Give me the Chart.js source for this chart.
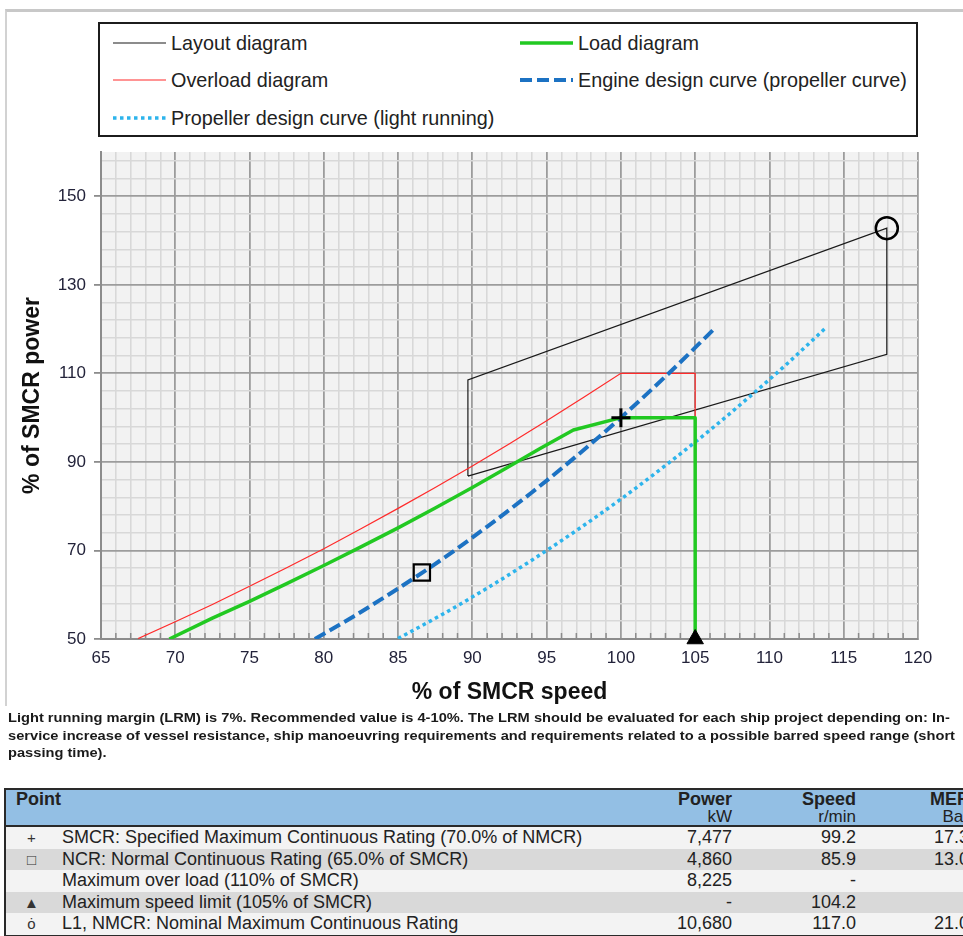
<!DOCTYPE html>
<html>
<head>
<meta charset="utf-8">
<title>Engine layout and load diagram</title>
<script src="https://cdn.jsdelivr.net/npm/chart.js@4.4.1/dist/chart.umd.min.js"></script>
<style>
  html, body { margin: 0; padding: 0; background: #fff; width: 963px; height: 936px; overflow: hidden;
    font-family: "Liberation Sans", Arial, sans-serif; color: #222; }
  #frame { position: absolute; left: 5px; top: 9px; width: 965px; height: 697px; box-sizing: border-box;
    border-top: 3px solid #c8c8c8; border-left: 2px solid #d2d2d2; }
  #chartWrap { position: absolute; left: 0; top: 0; width: 963px; height: 712px; }
  #legend { position: absolute; left: 98px; top: 22px; width: 820px; height: 115px; box-sizing: border-box;
    border: 2px solid #1c1c1c; background: #fff; }
  .item { position: absolute; height: 24px; display: flex; align-items: center; font-size: 19.8px; white-space: nowrap; color: #222; }
  .item svg { margin-right: 5px; flex: none; }
  #note { position: absolute; left: 8px; top: 709px; font-weight: bold; font-size: 13.5px; line-height: 17.5px;
    color: #1a1a1a; white-space: nowrap; transform-origin: 0 0; }
  #note span { display: block; }
  #pointsWrap { position: absolute; left: 4px; top: 788px; width: 990px; }
  #points { width: 970px; border-collapse: collapse; table-layout: fixed;
    border: 2px solid #2a2a2a; font-size: 18px; color: #222; }
  #points th { background: #93bfe4; font-weight: bold; vertical-align: top; line-height: 17px; height: 34px;
    padding: 1px 5px 0 5px; border-bottom: 2px solid #2a2a2a; }
  #points th small { display: block; font-size: 17px; font-weight: normal; }
  #points td { height: 21.6px; line-height: 21.6px; padding: 0 5px; white-space: nowrap; }
  #points tr:nth-child(odd) td { background: #f3f3f3; }
  #points tr:nth-child(even) td { background: #d9d9d9; }
  #points .sym { text-align: center; color: #333; font-size: 15px; }
  #points .num { text-align: right; }
</style>
</head>
<body>
<div id="frame"></div>
<div id="chartWrap"><canvas id="chart"></canvas></div>
<div id="legend"></div>
<div id="note">
  <span>Light running margin (LRM) is 7%. Recommended value is 4-10%. The LRM should be evaluated for each ship project depending on: In-</span>
  <span>service increase of vessel resistance, ship manoeuvring requirements and requirements related to a possible barred speed range (short</span>
  <span>passing time).</span>
</div>
<div id="pointsWrap">
<table id="points">
  <colgroup>
    <col style="width:52px"><col style="width:544px"><col style="width:136px"><col style="width:124px"><col style="width:114px">
  </colgroup>
  <thead>
    <tr>
      <th colspan="2" style="text-align:left;padding-left:10px">Point</th>
      <th style="text-align:right">Power<small>kW</small></th>
      <th style="text-align:right">Speed<small>r/min</small></th>
      <th style="text-align:right">MEP<small>Bar</small></th>
    </tr>
  </thead>
  <tbody id="pointRows"></tbody>
</table>
</div>

<script>
// ---- Axis ticks and grid spacing (% of SMCR) ----
const xTickLabels = [65, 70, 75, 80, 85, 90, 95, 100, 105, 110, 115, 120];
const yTickLabels = [50, 70, 90, 110, 130, 150];
const xRange = [65, 120];
const yRange = [50, 160];
const xMinorStep = 1;
const yMinorStep = 4;

// ---- Layout diagram corners: L4, L3, L1, L2, back to L4 ----
const layoutSpeed = [89.7, 89.7, 117.9, 117.9, 89.7];
const layoutPower = [86.8, 108.5, 142.8, 114.3, 86.8];

// ---- Load diagram ----
const loadSpeed = [69.6, 72.5, 75, 77.5, 80, 82.5, 85, 87.5, 90, 92.5, 94.5, 96.8, 100, 105, 105];
const loadPower = [50.0, 54.7, 58.5, 62.5, 66.6, 70.8, 75.1, 79.6, 84.2, 89.0, 92.9, 97.2, 100, 100, 50];

// ---- Overload diagram ----
const overloadSpeed = [67.5, 70, 72.5, 75, 77.5, 80, 82.5, 85, 87.5, 90, 92.5, 95, 97.5, 100, 105, 105];
const overloadPower = [50.1, 53.9, 57.8, 61.9, 66.1, 70.4, 74.9, 79.5, 84.2, 89.1, 94.1, 99.3, 104.6, 110, 110, 100];

// ---- Engine design curve (propeller curve) ----
const engineCurveSpeed = [79.4, 82, 85, 88, 91, 94, 97, 100, 103, 106.3];
const engineCurvePower = [50.0, 55.1, 61.4, 68.1, 75.4, 83.1, 91.3, 100, 109.3, 120.1];

// ---- Propeller design curve (light running) ----
const lightRunSpeed = [85.0, 88, 91, 94, 97, 100, 103, 106, 109, 111, 113.7];
const lightRunPower = [50.1, 55.6, 61.5, 67.8, 74.5, 81.6, 89.2, 97.2, 105.7, 111.6, 120.0];

// ---- Marked points: SMCR, NCR, max speed limit, L1 ----
const markerSpeed = [100, 86.6, 105, 117.9];
const markerPower = [100, 65, 50, 142.8];

// ---- Point table ----
const pointSymbols = ['+', '\u25A1', '', '\u25B2', '\u022F'];
const pointNames = [
  'SMCR: Specified Maximum Continuous Rating (70.0% of NMCR)',
  'NCR: Normal Continuous Rating (65.0% of SMCR)',
  'Maximum over load (110% of SMCR)',
  'Maximum speed limit (105% of SMCR)',
  'L1, NMCR: Nominal Maximum Continuous Rating'
];
const pointPowerKw = ['7,477', '4,860', '8,225', '-', '10,680'];
const pointSpeedRpm = ['99.2', '85.9', '-', '104.2', '117.0'];
const pointMepBar = ['17.3', '13.0', '-', '-', '21.0'];

const zip = (xs, ys) => xs.map((x, i) => ({ x, y: ys[i] }));
const rangeStep = (a, b, s) => { const out = []; for (let v = a; v <= b + 1e-9; v += s) out.push(+v.toFixed(6)); return out; };
const xGridValues = rangeStep(xRange[0], xRange[1], xMinorStep);
const yGridValues = rangeStep(yRange[0], yRange[1] - 1e-6, yMinorStep);
const isMajorX = v => xTickLabels.includes(v);
const isMajorY = v => yTickLabels.includes(v);

const FONT = '"Liberation Sans", Arial, sans-serif';
Chart.defaults.font.family = FONT;

const datasets = [
  { label: 'Markers', data: zip(markerSpeed, markerPower), showLine: false, order: 0, clip: false,
    pointStyle: ['cross', 'rect', 'triangle', 'circle'], pointRadius: [9.5, 11.5, 9.5, 11],
    pointBorderWidth: [3, 2.2, 1, 2.5], pointBorderColor: '#000',
    pointBackgroundColor: ['#000', 'rgba(0,0,0,0)', '#000', 'rgba(0,0,0,0)'], pointHoverRadius: 0 },
  { label: 'Load diagram', data: zip(loadSpeed, loadPower), showLine: true, order: 1,
    borderColor: '#22c922', borderWidth: 3.5, pointRadius: 0, tension: 0, borderJoinStyle: 'round',
    legendPos: { col: 1, row: 0 } },
  { label: 'Engine design curve (propeller curve)', data: zip(engineCurveSpeed, engineCurvePower), showLine: true, order: 2,
    borderColor: '#1c72c3', borderWidth: 4, borderDash: [12, 5], pointRadius: 0, cubicInterpolationMode: 'monotone',
    legendPos: { col: 1, row: 1 } },
  { label: 'Propeller design curve (light running)', data: zip(lightRunSpeed, lightRunPower), showLine: true, order: 3,
    borderColor: '#2db4ec', borderWidth: 3.5, borderDash: [3.5, 3.5], pointRadius: 0, cubicInterpolationMode: 'monotone',
    legendPos: { col: 0, row: 2 } },
  { label: 'Overload diagram', data: zip(overloadSpeed, overloadPower), showLine: true, order: 4,
    borderColor: '#ff2a2a', borderWidth: 1.2, pointRadius: 0, tension: 0,
    legendPos: { col: 0, row: 1 } },
  { label: 'Layout diagram', data: zip(layoutSpeed, layoutPower), showLine: true, order: 5,
    borderColor: '#1a1a1a', borderWidth: 1.2, pointRadius: 0, tension: 0,
    legendPos: { col: 0, row: 0 } }
];

// Boxed legend built from the dataset styles
(function buildLegend() {
  const box = document.getElementById('legend');
  const colLeft = [13, 420];
  const rowTop = [7, 44, 82];
  const order = ['Layout diagram', 'Load diagram', 'Overload diagram',
    'Engine design curve (propeller curve)', 'Propeller design curve (light running)'];
  order.forEach(name => {
    const ds = datasets.find(d => d.label === name);
    const item = document.createElement('div');
    item.className = 'item';
    item.style.left = colLeft[ds.legendPos.col] + 'px';
    item.style.top = rowTop[ds.legendPos.row] + 'px';
    const dash = ds.borderDash ? ds.borderDash.join(',') : 'none';
    const w = Math.max(ds.borderWidth, 1.2);
    item.innerHTML = '<svg width="53" height="10"><line x1="0" y1="5" x2="53" y2="5" stroke="' + ds.borderColor +
      '" stroke-width="' + w + '" stroke-dasharray="' + dash + '"/></svg>';
    const t = document.createElement('span');
    t.textContent = ds.label;
    item.appendChild(t);
    box.appendChild(item);
  });
})();

// Point table rows
(function buildTable() {
  const body = document.getElementById('pointRows');
  pointNames.forEach((name, i) => {
    const tr = document.createElement('tr');
    [[pointSymbols[i], 'sym'], [name, ''], [pointPowerKw[i], 'num'], [pointSpeedRpm[i], 'num'], [pointMepBar[i], 'num']]
      .forEach(([txt, cls]) => {
        const td = document.createElement('td');
        if (cls) td.className = cls;
        td.textContent = txt;
        tr.appendChild(td);
      });
    body.appendChild(tr);
  });
})();

// Fit the note paragraph to the page width
(function fitNote() {
  const note = document.getElementById('note');
  const spans = note.querySelectorAll('span');
  const widthOf = el => { const r = document.createRange(); r.selectNodeContents(el); return r.getBoundingClientRect().width; };
  const s = Math.min(950 / widthOf(spans[0]), 947 / widthOf(spans[1]));
  note.style.transform = 'scaleX(' + s + ')';
})();

const plotBackground = {
  id: 'plotBackground',
  beforeDraw(chart) {
    const { ctx, chartArea: a } = chart;
    ctx.save();
    ctx.fillStyle = '#f2f2f2';
    ctx.fillRect(a.left, a.top, a.width, a.height);
    ctx.restore();
  }
};

// Short inward tick marks on the speed axis at the minor steps
const minorSpeedTicks = {
  id: 'minorSpeedTicks',
  beforeDatasetsDraw(chart) {
    const { ctx, chartArea: a } = chart;
    const xs = chart.scales.x;
    ctx.save();
    ctx.strokeStyle = '#8c8c8c';
    ctx.lineWidth = 1.5;
    ctx.beginPath();
    xs.ticks.forEach(t => {
      if (isMajorX(t.value)) return;
      const px = xs.getPixelForValue(t.value);
      ctx.moveTo(px, a.bottom);
      ctx.lineTo(px, a.bottom - 6);
    });
    ctx.stroke();
    ctx.restore();
  }
};

new Chart(document.getElementById('chart'), {
  type: 'scatter',
  data: { datasets },
  plugins: [plotBackground, minorSpeedTicks],
  options: {
    responsive: true,
    maintainAspectRatio: false,
    animation: false,
    events: [],
    layout: { padding: { top: 152, right: 45, left: 0, bottom: 0 } },
    plugins: { legend: { display: false }, tooltip: { enabled: false } },
    scales: {
      x: {
        type: 'linear', min: xRange[0], max: xRange[1],
        afterBuildTicks: axis => { axis.ticks = xGridValues.map(v => ({ value: v })); },
        afterFit: axis => { axis.height = 73; },
        ticks: { autoSkip: false, maxRotation: 0, minRotation: 0, padding: 9, color: '#23233a',
          font: { size: 17 }, callback: v => (isMajorX(v) ? String(v) : '') },
        grid: {
          drawTicks: false,
          color: c => (c.tick && isMajorX(c.tick.value) ? '#9c9c9c' : '#d8d8d8'),
          lineWidth: c => (c.tick && isMajorX(c.tick.value) ? 1.8 : 1.6)
        },
        border: { display: true, color: '#8c8c8c', width: 2 },
        title: { display: true, text: '% of SMCR speed', color: '#111',
          font: { size: 23, weight: 'bold' }, padding: { top: 0, bottom: 6 } }
      },
      y: {
        type: 'linear', min: yRange[0], max: yRange[1],
        afterBuildTicks: axis => { axis.ticks = yGridValues.map(v => ({ value: v })); },
        afterFit: axis => { axis.width = 101; },
        ticks: { autoSkip: false, padding: 8, color: '#23233a', font: { size: 17 },
          callback: v => (isMajorY(v) ? String(v) : '') },
        grid: {
          drawTicks: true, tickLength: 7,
          color: c => (c.tick && isMajorY(c.tick.value) ? '#9c9c9c' : '#d8d8d8'),
          lineWidth: c => (c.tick && isMajorY(c.tick.value) ? 1.8 : 1.6),
          tickColor: c => (c.tick && isMajorY(c.tick.value) ? '#8c8c8c' : 'rgba(0,0,0,0)')
        },
        border: { display: true, color: '#8c8c8c', width: 2 },
        title: { display: true, text: '% of SMCR power', color: '#111',
          font: { size: 23, weight: 'bold' }, padding: { top: 19, bottom: 0 } }
      }
    }
  }
});
</script>
</body>
</html>
